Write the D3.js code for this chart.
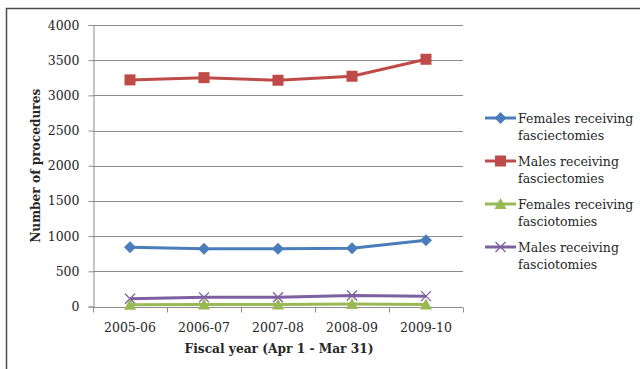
<!DOCTYPE html>
<html>
<head>
<meta charset="utf-8">
<script src="https://cdn.jsdelivr.net/npm/d3@7"></script>
<style>
  html, body { margin: 0; padding: 0; background: #fff; }
  svg { display: block; }
  text { font-family: "DejaVu Serif", "Liberation Serif", serif; fill: #262626; }
</style>
</head>
<body>
<svg id="chart" width="640" height="369"></svg>
<script>
// Fiscal years on the x axis
const categories = ["2005-06", "2006-07", "2007-08", "2008-09", "2009-10"];

// Procedure counts per fiscal year
const femalesFasciectomies = [843, 820, 820, 828, 943];
const malesFasciectomies   = [3220, 3252, 3215, 3272, 3513];
const femalesFasciotomies  = [25, 30, 30, 35, 30];
const malesFasciotomies    = [110, 130, 132, 156, 147];

const yTicks = [0, 500, 1000, 1500, 2000, 2500, 3000, 3500, 4000];

const seriesNames = [
  ["Females receiving", "fasciectomies"],
  ["Males receiving", "fasciectomies"],
  ["Females receiving", "fasciotomies"],
  ["Males receiving", "fasciotomies"]
];

const series = [
  { name: seriesNames[0], values: femalesFasciectomies, color: "#4A7EBB", marker: "diamond" },
  { name: seriesNames[1], values: malesFasciectomies,   color: "#BE4B48", marker: "square" },
  { name: seriesNames[2], values: femalesFasciotomies,  color: "#98B954", marker: "triangle" },
  { name: seriesNames[3], values: malesFasciotomies,    color: "#7D60A0", marker: "cross" }
];

const svg = d3.select("#chart");

// Outer chart frame
svg.append("rect")
  .attr("x", 6.5).attr("y", 8.5)
  .attr("width", 660).attr("height", 400)
  .attr("fill", "none")
  .attr("stroke", "#4d4d4d")
  .attr("stroke-width", 1.5);

const plot = { left: 93, right: 463, top: 25, bottom: 306.5 };

const x = d3.scaleBand().domain(categories).range([plot.left, plot.right]);
const y = d3.scaleLinear().domain([0, 4000]).range([plot.bottom, plot.top]);

// Horizontal gridlines
svg.append("g")
  .selectAll("line")
  .data(yTicks.filter(d => d > 0))
  .join("line")
  .attr("x1", plot.left).attr("x2", plot.right)
  .attr("y1", d => Math.round(y(d)) + 0.5).attr("y2", d => Math.round(y(d)) + 0.5)
  .attr("stroke", "#8c8c8c").attr("stroke-width", 1);

// Y axis
const yAxis = svg.append("g")
  .attr("transform", `translate(${plot.left + 0.5},0)`)
  .call(d3.axisLeft(y).tickValues(yTicks).tickSize(5).tickPadding(9).tickFormat(d3.format("d")));
yAxis.select(".domain").attr("stroke", "#8c8c8c");
yAxis.selectAll(".tick line").attr("stroke", "#8c8c8c");
yAxis.selectAll(".tick text")
  .attr("font-size", "12.5px")
  .attr("font-family", "DejaVu Serif")
  .attr("fill", "#262626");

// X axis: ticks at category boundaries
const xAxisG = svg.append("g").attr("transform", `translate(0,${Math.round(plot.bottom) + 0.5})`);
xAxisG.append("line")
  .attr("x1", plot.left).attr("x2", plot.right)
  .attr("stroke", "#8c8c8c");
const boundaries = categories.map(c => x(c)).concat([x(categories[categories.length - 1]) + x.bandwidth()]);
xAxisG.selectAll("line.tk")
  .data(boundaries)
  .join("line")
  .attr("class", "tk")
  .attr("x1", d => Math.round(d) + 0.5).attr("x2", d => Math.round(d) + 0.5)
  .attr("y1", 0).attr("y2", 5)
  .attr("stroke", "#8c8c8c");
xAxisG.selectAll("text")
  .data(categories)
  .join("text")
  .attr("x", d => x(d) + x.bandwidth() / 2)
  .attr("y", 24)
  .attr("text-anchor", "middle")
  .attr("font-size", "12.5px")
  .text(d => d);

// Axis titles
svg.append("text")
  .attr("x", (plot.left + plot.right) / 2 + 1)
  .attr("y", 353)
  .attr("text-anchor", "middle")
  .attr("font-size", "12.2px")
  .attr("font-weight", "bold")
  .text("Fiscal year (Apr 1 - Mar 31)");

svg.append("text")
  .attr("transform", `translate(40,${(plot.top + plot.bottom) / 2}) rotate(-90)`)
  .attr("text-anchor", "middle")
  .attr("font-size", "12.2px")
  .attr("font-weight", "bold")
  .text("Number of procedures");

// Marker shapes
function drawMarker(g, type, color, cx, cy) {
  if (type === "diamond") {
    g.append("path")
      .attr("d", `M${cx},${cy - 6}L${cx + 6},${cy}L${cx},${cy + 6}L${cx - 6},${cy}Z`)
      .attr("fill", color);
  } else if (type === "square") {
    g.append("rect")
      .attr("x", cx - 5.5).attr("y", cy - 5.5)
      .attr("width", 11).attr("height", 11)
      .attr("fill", color);
  } else if (type === "triangle") {
    g.append("path")
      .attr("d", `M${cx},${cy - 6}L${cx + 6},${cy + 5}L${cx - 6},${cy + 5}Z`)
      .attr("fill", color);
  } else if (type === "cross") {
    g.append("path")
      .attr("d", `M${cx - 5},${cy - 5}L${cx + 5},${cy + 5}M${cx - 5},${cy + 5}L${cx + 5},${cy - 5}`)
      .attr("stroke", color).attr("stroke-width", 1.3).attr("fill", "none");
  }
}

const line = d3.line()
  .x((d, i) => x(categories[i]) + x.bandwidth() / 2)
  .y(d => y(d));

// Series lines and markers (draw in reverse so the first series is on top)
series.slice().reverse().forEach(s => {
  const g = svg.append("g");
  g.append("path")
    .datum(s.values)
    .attr("d", line)
    .attr("fill", "none")
    .attr("stroke", s.color)
    .attr("stroke-width", 3)
    .attr("stroke-linejoin", "round");
  s.values.forEach((v, i) => {
    drawMarker(g, s.marker, s.color, x(categories[i]) + x.bandwidth() / 2, y(v));
  });
});

// Legend
const legend = svg.append("g");
series.forEach((s, i) => {
  const ly = 118 + i * 43;
  const g = legend.append("g");
  g.append("line")
    .attr("x1", 485).attr("x2", 516)
    .attr("y1", ly).attr("y2", ly)
    .attr("stroke", s.color).attr("stroke-width", 3);
  drawMarker(g, s.marker, s.color, 500.5, ly);
  const t = g.append("text")
    .attr("x", 518).attr("y", ly + 4.5)
    .attr("font-size", "12.5px");
  t.append("tspan").attr("x", 518).text(s.name[0]);
  t.append("tspan").attr("x", 518).attr("dy", 17).text(s.name[1]);
});
</script>
</body>
</html>
